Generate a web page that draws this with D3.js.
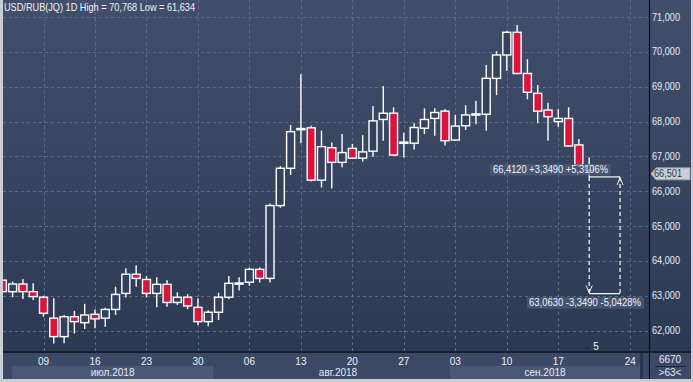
<!DOCTYPE html>
<html><head><meta charset="utf-8">
<script src="https://cdn.jsdelivr.net/npm/d3@7/dist/d3.min.js"></script>
<style>
html,body{margin:0;padding:0;background:#c9cdd5;}
svg{display:block;font-family:"Liberation Sans",Arial,sans-serif;}
</style></head>
<body><svg id="c" width="693" height="382"></svg>
<script>
// ---------- DATA ----------
const dates = ["2018-07-03","2018-07-04","2018-07-05","2018-07-06",
"2018-07-09","2018-07-10","2018-07-11","2018-07-12","2018-07-13",
"2018-07-16","2018-07-17","2018-07-18","2018-07-19","2018-07-20",
"2018-07-23","2018-07-24","2018-07-25","2018-07-26","2018-07-27",
"2018-07-30","2018-07-31","2018-08-01","2018-08-02","2018-08-03",
"2018-08-06","2018-08-07","2018-08-08","2018-08-09","2018-08-10",
"2018-08-13","2018-08-14","2018-08-15","2018-08-16","2018-08-17",
"2018-08-20","2018-08-21","2018-08-22","2018-08-23","2018-08-24",
"2018-08-27","2018-08-28","2018-08-29","2018-08-30","2018-08-31",
"2018-09-03","2018-09-04","2018-09-05","2018-09-06","2018-09-07",
"2018-09-10","2018-09-11","2018-09-12","2018-09-13","2018-09-14",
"2018-09-17","2018-09-18","2018-09-19","2018-09-20"];
const open  = [63.45,63.12,63.34,63.12, 62.96,62.36,61.83,62.40,62.23, 62.47,62.36,62.61,63.07,63.62,
               63.47,63.07,63.33,62.81,62.96, 62.67,62.26,62.53,62.96,63.35, 63.39,63.76,63.50,65.59,66.66,
               67.77,67.82,66.32,67.25,66.83, 67.23,66.95,67.15,68.06,68.24, 67.39,67.38,67.81,68.09,68.30,
               67.47,67.88,68.20,68.21,69.24, 69.91,70.56,69.38,68.81,68.33, 68.00,68.09,67.33,66.60];
const high  = [63.52,63.41,63.48,63.36, 63.00,62.93,62.45,62.57,62.77, 62.61,62.66,63.26,63.79,63.88,
               63.57,63.53,63.45,63.10,63.05, 62.93,62.59,63.09,63.57,63.53, 63.81,63.81,65.65,66.72,67.90,
               69.36,67.88,67.74,67.40,67.64, 67.36,67.61,68.45,69.02,68.41, 67.68,67.95,68.38,68.38,68.35,
               68.19,68.47,68.59,69.62,70.02, 70.60,70.768,69.79,69.05,68.54, 68.35,68.41,67.50,66.97];
const low   = [63.08,62.96,62.91,62.88, 62.40,61.634,61.64,61.92,62.05, 62.07,62.11,62.45,62.95,63.26,
               62.95,62.67,62.69,62.74,62.62, 62.16,62.13,62.31,62.90,63.15, 63.29,63.38,63.38,65.53,66.47,
               67.38,66.28,66.11,66.08,66.69, 66.93,66.85,66.99,67.45,67.02, 66.97,67.20,67.64,67.59,67.31,
               67.45,67.76,67.92,67.74,68.76, 69.46,69.36,68.64,67.95,67.45, 67.85,67.28,66.70,66.41];
const close = [63.12,63.34,63.12,62.98, 62.50,61.83,62.40,62.26,62.45, 62.34,62.61,63.04,63.62,63.50,
               63.07,63.33,62.81,62.96,62.71, 62.26,62.53,62.96,63.36,63.37, 63.76,63.50,65.59,66.66,67.71,
               67.80,66.32,67.28,66.83,67.11, 66.95,67.13,68.02,68.24,67.04, 67.41,67.83,68.06,68.26,67.45,
               67.87,68.19,68.22,69.24,69.91, 70.56,69.38,68.84,68.30,68.14, 68.09,67.30,66.75,66.74];

const weekTickDates = ["2018-07-09","2018-07-16","2018-07-23","2018-07-30","2018-08-06","2018-08-13",
                       "2018-08-20","2018-08-27","2018-09-03","2018-09-10","2018-09-17","2018-09-24"];
const weekTickLabels = ["09","16","23","30","06","13","20","27","03","10","17","24"];
const monthLabels = ["июл.2018","авг.2018","сен.2018"];
const monthHighlight = [true,false,true];
const yTicks = [62,63,64,65,66,67,68,69,70,71];
const title = "USD/RUB(JQ) 1D High = 70,768 Low = 61,634";
const lastPrice = 66.501;
const measureLow = 63.063, measureHigh = 66.412;
const measureTopText = "66,4120 +3,3490 +5,3106%";
const measureBotText = "63,0630 -3,3490 -5,0428%";
const measureFromDate = "2018-09-20", measureToDate = "2018-09-23";
const eventLabel = "5";
const cornerTop = "6670", cornerBot = ">63<";

// ---------- LAYOUT ----------
const W = 693, H = 382;
const plotL = 3, plotR = 648, plotT = 0, plotB = 351;
const svg = d3.select("#c");

const parse = d3.timeParse("%Y-%m-%d");
const lastDate = parse(dates[dates.length-1]);
// position index: trading days for history, calendar days into the future
function posIndex(ds){
  const i = dates.indexOf(ds);
  if (i >= 0) return i;
  const d = parse(ds);
  if (d > lastDate) return dates.length-1 + d3.timeDay.count(lastDate, d);
  const j = dates.findIndex(x => parse(x) >= d);
  return j < 0 ? dates.length-1 : j - 0.5;
}
const x = d3.scaleLinear().domain([4, 54]).range([43.5, 558.3]);
const y = d3.scaleLinear().domain([62, 71]).range([330.7, 17.0]);
const fmtTick = v => d3.format(".3f")(v).replace(".", ",");

// ---------- BACKGROUND ----------
const defs = svg.append("defs");
const g1 = defs.append("linearGradient").attr("id","bg").attr("x1",0).attr("x2",0).attr("y1",0).attr("y2",1);
g1.append("stop").attr("offset","0%").attr("stop-color","#414e6c");
g1.append("stop").attr("offset","55%").attr("stop-color","#37445f");
g1.append("stop").attr("offset","100%").attr("stop-color","#2c3953");
defs.append("clipPath").attr("id","clip").append("rect")
  .attr("x",plotL).attr("y",plotT).attr("width",plotR-plotL+1).attr("height",plotB-plotT);

svg.append("rect").attr("x",0).attr("y",0).attr("width",W).attr("height",H).attr("fill","#c9cdd5");
svg.append("rect").attr("x",plotL).attr("y",0).attr("width",W-plotL-2).attr("height",plotB).attr("fill","url(#bg)");
svg.append("rect").attr("x",plotL).attr("y",plotB).attr("width",W-plotL-2).attr("height",H-plotB-3).attr("fill","#3b4866");

// ---------- GRID ----------
const grid = svg.append("g").attr("clip-path","url(#clip)");
grid.selectAll("line.h").data(yTicks).join("line")
  .attr("x1",plotL).attr("x2",plotR).attr("y1",d=>Math.round(y(d))+0.5).attr("y2",d=>Math.round(y(d))+0.5)
  .attr("stroke","#5d6a86").attr("stroke-dasharray","3,3").attr("stroke-width",1);
grid.selectAll("line.v").data(weekTickDates).join("line")
  .attr("x1",d=>Math.round(x(posIndex(d)))+0.5).attr("x2",d=>Math.round(x(posIndex(d)))+0.5)
  .attr("y1",plotT).attr("y2",plotB)
  .attr("stroke","#5d6a86").attr("stroke-dasharray","3,3").attr("stroke-width",1);

// ---------- CANDLES ----------
const cw = 8;
const candles = dates.map((d,i)=>({i, o:open[i], h:high[i], l:low[i], c:close[i]}));
const cg = svg.append("g").attr("clip-path","url(#clip)");
const cs = cg.selectAll("g.c").data(candles).join("g");
cs.append("line")
  .attr("x1",d=>x(d.i)).attr("x2",d=>x(d.i))
  .attr("y1",d=>y(d.h)).attr("y2",d=>y(d.l))
  .attr("stroke","#ffffff").attr("stroke-width",1.4);
cs.append("rect")
  .attr("x",d=>x(d.i)-cw/2)
  .attr("y",d=>y(Math.max(d.o,d.c)))
  .attr("width",cw)
  .attr("height",d=>Math.max(1.2, Math.abs(y(d.o)-y(d.c))))
  .attr("fill",d=>d.c < d.o ? "#dc143c" : "#34415d")
  .attr("stroke","#ffffff").attr("stroke-width",1.4);

// ---------- MEASUREMENT ----------
const mx1 = x(posIndex(measureFromDate)), mx2 = x(posIndex(measureToDate));
const yHi = y(measureHigh), yLo = y(measureLow);
const mg = svg.append("g").attr("clip-path","url(#clip)");
mg.append("line").attr("x1",mx1).attr("x2",mx2).attr("y1",yHi).attr("y2",yHi).attr("stroke","#fff").attr("stroke-width",1.2);
mg.append("line").attr("x1",mx1).attr("x2",mx2).attr("y1",yLo).attr("y2",yLo).attr("stroke","#fff").attr("stroke-width",1.2);
mg.append("line").attr("x1",mx1).attr("x2",mx1).attr("y1",yHi).attr("y2",yLo).attr("stroke","#fff").attr("stroke-width",1.2).attr("stroke-dasharray","4,3");
mg.append("line").attr("x1",mx2).attr("x2",mx2).attr("y1",yHi).attr("y2",yLo).attr("stroke","#fff").attr("stroke-width",1.2).attr("stroke-dasharray","4,3");
mg.append("path").attr("d",`M${mx1-3},${yLo-8}L${mx1},${yLo-1}L${mx1+3},${yLo-8}`).attr("fill","none").attr("stroke","#fff").attr("stroke-width",1);
mg.append("path").attr("d",`M${mx2-3},${yHi+8}L${mx2},${yHi+1}L${mx2+3},${yHi+8}`).attr("fill","none").attr("stroke","#fff").attr("stroke-width",1);

const lblTop = svg.append("g");
lblTop.append("rect").attr("x",490).attr("y",yHi-13).attr("width",121).attr("height",11.5).attr("fill","#4f5c78").attr("opacity",0.75);
lblTop.append("text").attr("x",493).attr("y",yHi-4).attr("textLength",115).attr("lengthAdjust","spacingAndGlyphs")
  .attr("font-size",10).attr("fill","#eef2f8").text(measureTopText);
const lblBot = svg.append("g");
lblBot.append("rect").attr("x",527).attr("y",yLo+3.5).attr("width",117).attr("height",11.5).attr("fill","#4f5c78").attr("opacity",0.75);
lblBot.append("text").attr("x",529).attr("y",yLo+12.5).attr("textLength",112).attr("lengthAdjust","spacingAndGlyphs")
  .attr("font-size",10).attr("fill","#eef2f8").text(measureBotText);

// ---------- TITLE ----------
svg.append("text").attr("x",4).attr("y",11).attr("font-size",10.3).attr("textLength",191).attr("lengthAdjust","spacingAndGlyphs")
  .attr("fill","#f0f4fa").text(title);

// ---------- RIGHT AXIS ----------
svg.append("line").attr("x1",649.5).attr("x2",649.5).attr("y1",0).attr("y2",H-3).attr("stroke","#0b0f18").attr("stroke-width",1.2);
svg.append("g").selectAll("text").data(yTicks).join("text")
  .attr("x",652).attr("y",d=>y(d)+3.5).attr("font-size",10).attr("textLength",28).attr("lengthAdjust","spacingAndGlyphs")
  .attr("fill","#e6ecf6").text(d=>fmtTick(d));
const yl = y(lastPrice);
svg.append("path").attr("d",`M651,${yl}L656,${yl-6}L690,${yl-6}L690,${yl+6}L656,${yl+6}Z`)
  .attr("fill","#c8cdd6").attr("stroke","#9aa3b2").attr("stroke-width",0.8);
svg.append("text").attr("x",654).attr("y",yl+3.6).attr("font-size",10).attr("textLength",28).attr("lengthAdjust","spacingAndGlyphs")
  .attr("fill","#2c3852").text(fmtTick(lastPrice));

// ---------- BOTTOM AXIS ----------
svg.append("line").attr("x1",plotL).attr("x2",W-2).attr("y1",352).attr("y2",352).attr("stroke","#0b0f18").attr("stroke-width",1.5);
const monthEdges = [12, x(posIndex("2018-07-31"))+5, x(posIndex("2018-08-31"))+5, 640];
const monthBoxes = monthLabels.map((lab,i)=>({label:lab, hi:monthHighlight[i], x0:monthEdges[i], x1:monthEdges[i+1]}));
svg.append("g").selectAll("rect").data(monthBoxes.filter(b=>b.hi)).join("rect")
  .attr("x",d=>d.x0).attr("y",366).attr("width",d=>d.x1-d.x0).attr("height",13).attr("fill","#4a5878");
svg.append("g").selectAll("text").data(monthBoxes).join("text")
  .attr("x",(d,i)=> i===1 ? 338 : (d.x0+d.x1)/2).attr("y",376).attr("text-anchor","middle")
  .attr("font-size",10).attr("fill","#e6ecf6").text(d=>d.label);
svg.append("g").selectAll("text").data(weekTickDates).join("text")
  .attr("x",d=>x(posIndex(d))).attr("y",364.5).attr("text-anchor","middle")
  .attr("font-size",10).attr("fill","#f0f4fa").text((d,i)=>weekTickLabels[i]);
svg.append("rect").attr("x",640).attr("y",353).attr("width",3).attr("height",26).attr("fill","#2a3650");
svg.append("path").attr("d","M583,350L587,345.5L591,350Z").attr("fill","#25304a");
svg.append("text").attr("x",596).attr("y",350).attr("text-anchor","middle").attr("font-size",10).attr("fill","#f0f4fa").text(eventLabel);

svg.append("rect").attr("x",650).attr("y",353).attr("width",41).attr("height",26).attr("fill","#3b4866");
svg.append("text").attr("x",670).attr("y",363).attr("text-anchor","middle").attr("font-size",10).attr("fill","#e6ecf6").text(cornerTop);
svg.append("line").attr("x1",655).attr("x2",686).attr("y1",366.5).attr("y2",366.5).attr("stroke","#1e2840");
svg.append("text").attr("x",670).attr("y",376).attr("text-anchor","middle").attr("font-size",10).attr("fill","#e6ecf6").text(cornerBot);

svg.append("rect").attr("x",0.5).attr("y",-1).attr("width",W-1).attr("height",H-0.5)
  .attr("fill","none").attr("stroke","#c9cdd5").attr("stroke-width",2);
</script></body></html>
